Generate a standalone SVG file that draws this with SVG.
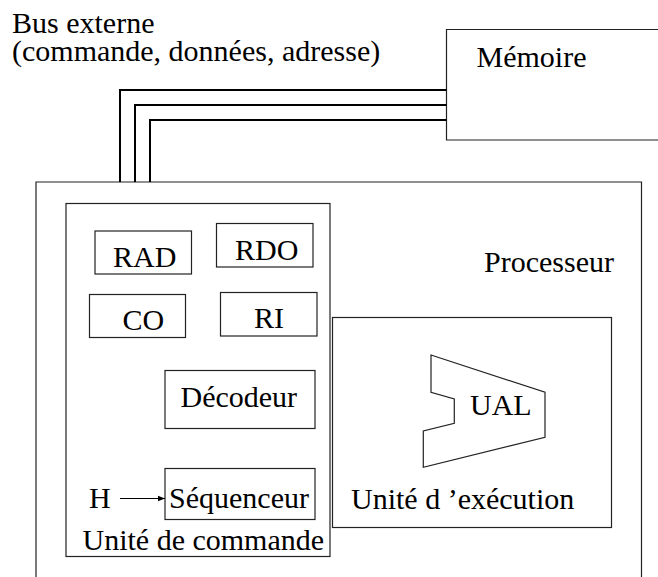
<svg xmlns="http://www.w3.org/2000/svg" width="658" height="577" viewBox="0 0 658 577">
<style>
  text { font-family: "Liberation Serif", "Times New Roman", serif; font-size: 30px; fill: #000; }
  .box { fill: #fff; stroke: #222; stroke-width: 1.2; }
  .bus { fill: none; stroke: #000; stroke-width: 2; }
  .conn { fill: none; stroke: #000; stroke-width: 1.2; }
</style>
<defs>
  <marker id="arr" viewBox="0 0 10 10" refX="10" refY="5" markerWidth="7" markerHeight="7" markerUnits="userSpaceOnUse" orient="auto">
    <path d="M0,1 L10,5 L0,9 z" fill="#000"/>
  </marker>
</defs>
<rect width="658" height="577" fill="#fff"/>

<g id="bus-label">
  <text x="12" y="33">Bus externe<tspan x="12" y="61">(commande, données, adresse)</tspan></text>
</g>

<g id="memoire">
  <path d="M670,29.5 H446.5 V140 H670" class="box" stroke-width="1.5"/>
  <text x="476.5" y="66.5">Mémoire</text>
</g>

<g id="processeur">
  <path d="M36,580 V182 H641.5 V580" class="box"/>
  <text x="484" y="271.5">Processeur</text>
</g>

<g id="unite-commande">
  <rect x="66" y="203.5" width="264" height="353" class="box"/>
  <text x="82.5" y="550">Unité de commande</text>
</g>

<g id="rad">
  <rect x="95" y="231" width="96.5" height="43" class="box"/>
  <text x="113" y="267">RAD</text>
</g>
<g id="rdo">
  <rect x="216.5" y="223.5" width="96.5" height="43.5" class="box"/>
  <text x="235" y="260">RDO</text>
</g>
<g id="co">
  <rect x="89.5" y="294.5" width="96" height="43" class="box"/>
  <text x="122.5" y="330">CO</text>
</g>
<g id="ri">
  <rect x="220.5" y="292.5" width="96.5" height="43.5" class="box"/>
  <text x="254" y="328">RI</text>
</g>
<g id="decodeur">
  <rect x="165" y="370.5" width="150" height="58" class="box"/>
  <text x="180.5" y="406.5">Décodeur</text>
</g>
<g id="sequenceur">
  <rect x="165" y="468.5" width="150" height="51" class="box"/>
  <text x="169" y="508">Séquenceur</text>
</g>
<g id="h">
  <text x="89" y="508">H</text>
</g>

<g id="unite-execution">
  <rect x="332.5" y="317.5" width="279" height="210" class="box"/>
  <text x="351" y="509">Unité d ’exécution</text>
</g>
<g id="ual">
  <polygon points="431,355 545,392.3 545,437.3 423.3,467.3 423.3,431 454.3,423.3 454.3,399 431,392.3" class="box"/>
  <text x="470" y="415">UAL</text>
</g>

<g id="connectors">
  <path d="M120,182 V90 H446.5" class="bus"/>
  <path d="M135,182 V105 H446.5" class="bus"/>
  <path d="M150,182 V120 H446.5" class="bus"/>
  <line x1="120" y1="498.5" x2="165" y2="498.5" class="conn" marker-end="url(#arr)"/>
</g>
</svg>
